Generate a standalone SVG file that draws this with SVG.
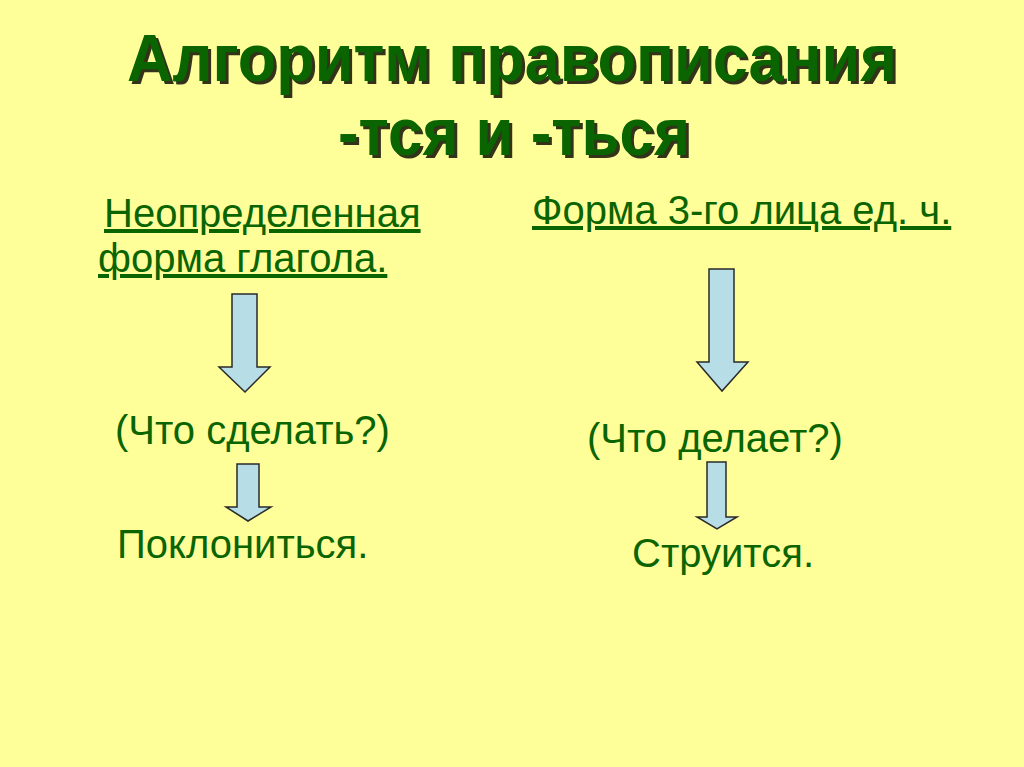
<svg xmlns="http://www.w3.org/2000/svg" width="1024" height="767" viewBox="0 0 1024 767">
<style>
.t{font-family:"Liberation Sans",Arial,sans-serif;font-weight:bold;font-size:66px}
.title{fill:#0a6400}
.shadow{fill:#33331a}
.hdr{font-family:"Liberation Sans",Arial,sans-serif;font-size:40px;fill:#0a6400;text-decoration:underline}
.txt{font-family:"Liberation Sans",Arial,sans-serif;font-size:40px;fill:#0a6400}
.arrow{fill:#b7dde6;stroke:#2a2a2a;stroke-width:1.5;stroke-linejoin:miter}
</style>
<rect width="1024" height="767" fill="#ffff99"/>
<g id="title">
<text class="t shadow" x="130" y="84" textLength="770" lengthAdjust="spacingAndGlyphs">Алгоритм правописания</text>
<text class="t title" x="127" y="81" textLength="770" lengthAdjust="spacingAndGlyphs">Алгоритм правописания</text>
<text class="t shadow" x="341" y="158" textLength="352" lengthAdjust="spacingAndGlyphs">-тся и -ться</text>
<text class="t title" x="338" y="155" textLength="352" lengthAdjust="spacingAndGlyphs">-тся и -ться</text>
</g>
<g id="left-header">
<text class="hdr" x="104" y="227">Неопределенная</text>
<text class="hdr" x="98" y="272">форма глагола.</text>
</g>
<g id="right-header">
<text class="hdr" x="532" y="224">Форма 3-го лица ед. ч.</text>
</g>
<g id="left-question"><text class="txt" x="115" y="444">(Что сделать?)</text></g>
<g id="left-example"><text class="txt" x="117" y="558">Поклониться.</text></g>
<g id="right-question"><text class="txt" x="587" y="452">(Что делает?)</text></g>
<g id="right-example"><text class="txt" x="632" y="567">Струится.</text></g>
<g id="connectors">
<polygon class="arrow" points="232,294 257,294 257,367 270,367 245,392 219,367 232,367"/>
<polygon class="arrow" points="709,269 734,269 734,362 748,362 722,391 697,362 709,362"/>
<polygon class="arrow" points="237,464 259,464 259,507 271,507 248,521 226,507 237,507"/>
<polygon class="arrow" points="707,462 726,462 726,517 737,517 717,529 697,517 707,517"/>
</g>
</svg>
